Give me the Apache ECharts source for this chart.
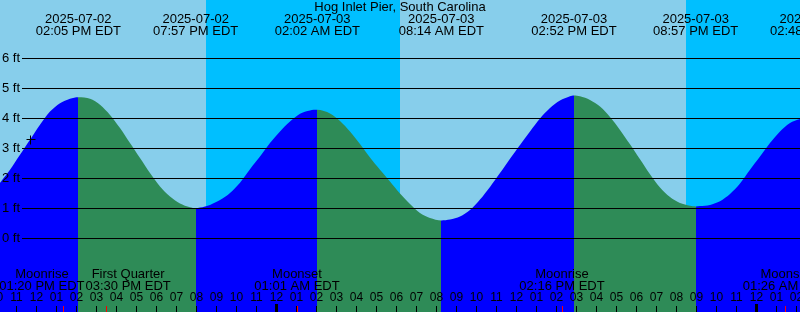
<!DOCTYPE html>
<html><head><meta charset="utf-8">
<style>html,body{margin:0;padding:0;background:#87CEEB}#c{width:800px;height:312px}</style>
<script src="https://cdn.jsdelivr.net/npm/echarts@6/dist/echarts.min.js"></script>
</head><body><div id="c"></div>
<script>
// ---------- data ----------
const chartTitle = 'Hog Inlet Pier, South Carolina';
const xStart = '2025-07-02 10:10';
const xEnd = '2025-07-04 02:10';
const yMin = -2.45, yMax = 7.95;
const levelTicks = [0, 1, 2, 3, 4, 5, 6];
const levelUnit = 'ft';
const tzName = 'EDT';

const extremeTimes = ['2025-07-02 14:05', '2025-07-02 19:57', '2025-07-03 02:02', '2025-07-03 08:14',
  '2025-07-03 14:52', '2025-07-03 20:57', '2025-07-04 02:48'];
const extremeHeights = [4.71, 1.01, 4.29, 0.60, 4.77, 1.07, 4.10];
const extremeTypes = ['H', 'L', 'H', 'L', 'H', 'L', 'H'];

// water level every half hour
const curveTimes = [
  '2025-07-02 10:10', '2025-07-02 10:40', '2025-07-02 11:10', '2025-07-02 11:40', '2025-07-02 12:10',
  '2025-07-02 12:40', '2025-07-02 13:10', '2025-07-02 13:40', '2025-07-02 14:40', '2025-07-02 15:10',
  '2025-07-02 15:40', '2025-07-02 16:10', '2025-07-02 16:40', '2025-07-02 17:10', '2025-07-02 17:40',
  '2025-07-02 18:10', '2025-07-02 18:40', '2025-07-02 19:10', '2025-07-02 19:40', '2025-07-02 20:10',
  '2025-07-02 20:40', '2025-07-02 21:10', '2025-07-02 21:40', '2025-07-02 22:10', '2025-07-02 22:40',
  '2025-07-02 23:10', '2025-07-02 23:40', '2025-07-03 00:10', '2025-07-03 00:40', '2025-07-03 01:10',
  '2025-07-03 01:40', '2025-07-03 02:40', '2025-07-03 03:10', '2025-07-03 03:40', '2025-07-03 04:10',
  '2025-07-03 04:40', '2025-07-03 05:10', '2025-07-03 05:40', '2025-07-03 06:10', '2025-07-03 06:40',
  '2025-07-03 07:10', '2025-07-03 07:40', '2025-07-03 08:40', '2025-07-03 09:10', '2025-07-03 09:40',
  '2025-07-03 10:10', '2025-07-03 10:40', '2025-07-03 11:10', '2025-07-03 11:40', '2025-07-03 12:10',
  '2025-07-03 12:40', '2025-07-03 13:10', '2025-07-03 13:40', '2025-07-03 14:10', '2025-07-03 14:40',
  '2025-07-03 15:10', '2025-07-03 15:40', '2025-07-03 16:10', '2025-07-03 16:40', '2025-07-03 17:10',
  '2025-07-03 17:40', '2025-07-03 18:10', '2025-07-03 18:40', '2025-07-03 19:10', '2025-07-03 19:40',
  '2025-07-03 20:10', '2025-07-03 20:40', '2025-07-03 21:10', '2025-07-03 21:40', '2025-07-03 22:10',
  '2025-07-03 22:40', '2025-07-03 23:10', '2025-07-03 23:40', '2025-07-04 00:10', '2025-07-04 00:40',
  '2025-07-04 01:10', '2025-07-04 01:40', '2025-07-04 02:10'];
const curveHeights = [
  1.85, 2.29, 2.79, 3.29, 3.79,
  4.23, 4.51, 4.66, 4.66, 4.46,
  4.12, 3.68, 3.18, 2.68, 2.18,
  1.73, 1.40, 1.17, 1.04, 1.03,
  1.12, 1.28, 1.52, 1.86, 2.31,
  2.73, 3.18, 3.57, 3.90, 4.16,
  4.27, 4.17, 3.92, 3.57, 3.15,
  2.70, 2.29, 1.90, 1.50, 1.15,
  0.85, 0.68, 0.63, 0.73, 0.95,
  1.30, 1.72, 2.18, 2.66, 3.12,
  3.57, 4.00, 4.35, 4.60, 4.74,
  4.74, 4.62, 4.40, 4.05, 3.62,
  3.14, 2.64, 2.14, 1.70, 1.38,
  1.18, 1.09, 1.08, 1.12, 1.24,
  1.48, 1.83, 2.29, 2.73, 3.18,
  3.57, 3.85, 3.98];

const nightStarts = ['2025-07-02 20:28', '2025-07-03 20:28'];
const nightEnds = ['2025-07-03 06:10', '2025-07-04 06:11'];

const moonTimes = ['2025-07-02 13:20', '2025-07-02 15:30', '2025-07-03 01:01', '2025-07-03 14:16', '2025-07-04 01:26'];
const moonEvents = ['Moonrise', 'First Quarter', 'Moonset', 'Moonrise', 'Moonset'];

const nowTime = '2025-07-02 11:40';
const nowHeight = 3.31;

const hourTickFirst = '2025-07-02 10:00';
const hourTickLast = '2025-07-04 02:00';

// ---------- helpers ----------
const FONT = '"Liberation Sans", Arial, sans-serif';
function toTs(s) { return new Date(s.replace(' ', 'T') + ':00').getTime(); }
function pad(n) { return String(n).padStart(2, '0'); }
function fmtTime(ts) {
  const d = new Date(ts); let h = d.getHours(); const ap = h >= 12 ? 'PM' : 'AM';
  h = h % 12 || 12; return pad(h) + ':' + pad(d.getMinutes()) + ' ' + ap + ' ' + tzName;
}
function fmtDate(ts) { const d = new Date(ts); return d.getFullYear() + '-' + pad(d.getMonth() + 1) + '-' + pad(d.getDate()); }

const xMinTs = toTs(xStart), xMaxTs = toTs(xEnd);
const extremeTs = extremeTimes.map(toTs);
const tideData = curveTimes.map((t, i) => [toTs(t), curveHeights[i]])
  .concat(extremeTs.map((t, i) => [t, extremeHeights[i]]))
  .sort((a, b) => a[0] - b[0]);

const RISE = '#0000FF', FALL = '#2E8B57';
const pieces = [];
extremeTs.forEach((t, i) => {
  const color = extremeTypes[i] === 'H' ? RISE : FALL;
  if (i === 0) pieces.push({ lt: t, color });
  else pieces.push({ gte: extremeTs[i - 1], lt: t, color });
});
pieces.push({ gte: extremeTs[extremeTs.length - 1], color: extremeTypes[extremeTs.length - 1] === 'H' ? FALL : RISE });

const hourTs = [];
for (let t = toTs(hourTickFirst); t <= toTs(hourTickLast); t += 3600000) hourTs.push(t);

const moonTs = moonTimes.map(toTs);
const measureCtx = document.createElement('canvas').getContext('2d');
measureCtx.font = '13px ' + FONT;

const chart = echarts.init(document.getElementById('c'), null, { renderer: 'canvas' });
chart.setOption({
  animation: false,
  backgroundColor: '#87CEEB',
  grid: { left: 0, right: 0, top: 0, bottom: 0 },
  xAxis: { type: 'time', min: xMinTs, max: xMaxTs, show: false },
  yAxis: { type: 'value', min: yMin, max: yMax, show: false },
  visualMap: { type: 'piecewise', show: false, dimension: 0, seriesIndex: 1, pieces },
  graphic: [{ type: 'text', x: 400, y: 7.5, z: 100,
    style: { text: chartTitle, align: 'center', verticalAlign: 'middle', font: '13px ' + FONT, fill: '#000' } }],
  series: [
    { // night bands
      type: 'custom', silent: true, clip: true, z: 0,
      data: nightStarts.map((s, i) => [toTs(s), toTs(nightEnds[i])]),
      renderItem: (params, api) => {
        const cs = params.coordSys;
        const x0 = Math.round(api.coord([api.value(0), 0])[0]);
        const x1 = Math.round(api.coord([api.value(1), 0])[0]);
        return { type: 'rect', shape: { x: x0, y: cs.y, width: x1 - x0, height: cs.height }, style: { fill: '#00BFFF' } };
      }
    },
    { // tide
      type: 'line', data: tideData, smooth: 0.3, symbol: 'none', silent: true, z: 1,
      lineStyle: { width: 0 }, areaStyle: { opacity: 1, origin: 'start' }
    },
    { // level lines
      type: 'custom', silent: true, z: 2,
      data: levelTicks.map(v => [xMinTs, v]),
      renderItem: (params, api) => {
        const cs = params.coordSys;
        const yc = api.coord([api.value(0), api.value(1)])[1];
        const y = Math.floor(yc) + 0.5;
        return { type: 'group', children: [
          { type: 'line', shape: { x1: cs.x + 22, y1: y, x2: cs.x + cs.width, y2: y }, style: { stroke: '#000', lineWidth: 1 } },
          { type: 'text', style: { text: api.value(1) + ' ' + levelUnit, x: cs.x + 2, y: y - 0.5, align: 'left', verticalAlign: 'middle', font: '13px ' + FONT, fill: '#000' } }
        ] };
      }
    },
    { // tide labels (top)
      type: 'custom', silent: true, z: 3,
      data: extremeTs.map((t, i) => [t, extremeHeights[i]]),
      renderItem: (params, api) => {
        const cs = params.coordSys;
        const ts = api.value(0);
        const x = api.coord([ts, 0])[0];
        return { type: 'group', children: [
          { type: 'text', style: { text: fmtDate(ts), x, y: cs.y + 19.5, align: 'center', verticalAlign: 'middle', font: '13px ' + FONT, fill: '#000' } },
          { type: 'text', style: { text: fmtTime(ts), x, y: cs.y + 31.5, align: 'center', verticalAlign: 'middle', font: '13px ' + FONT, fill: '#000' } }
        ] };
      }
    },
    { // hour ticks and labels
      type: 'custom', silent: true, z: 3,
      data: hourTs.map(t => [t, 0]),
      renderItem: (params, api) => {
        const cs = params.coordSys;
        const ts = api.value(0);
        const x = Math.floor(api.coord([ts, 0])[0]) + 0.5;
        const h = new Date(ts).getHours();
        const mid = h === 0;
        const bottom = cs.y + cs.height;
        return { type: 'group', children: [
          { type: 'line', shape: { x1: x, y1: bottom - (mid ? 8 : 6), x2: x, y2: bottom }, style: { stroke: '#000', lineWidth: mid ? 3 : 1 } },
          { type: 'text', style: { text: pad(h % 12 || 12), x, y: bottom - 14, align: 'center', verticalAlign: 'middle', font: '12px ' + FONT, fill: '#000' } }
        ] };
      }
    },
    { // moon events
      type: 'custom', silent: true, z: 4,
      data: moonTs.map(t => [t, 0]),
      renderItem: (params, api) => {
        const cs = params.coordSys;
        const bottom = cs.y + cs.height;
        const xs = moonTs.map(t => api.coord([t, 0])[0]);
        const ws = moonTs.map((t, i) => Math.max(measureCtx.measureText(moonEvents[i]).width, measureCtx.measureText(fmtTime(t)).width));
        const cx = xs.slice();
        for (let pass = 0; pass < 6; pass++) {
          for (let i = 1; i < cx.length; i++) {
            const ov = (cx[i - 1] + ws[i - 1] / 2 + 1) - (cx[i] - ws[i] / 2);
            if (ov > 0) { cx[i - 1] -= ov / 2; cx[i] += ov / 2; }
          }
        }
        const i = params.dataIndex;
        const tx = Math.floor(xs[i]) + 0.5;
        return { type: 'group', children: [
          { type: 'line', shape: { x1: tx, y1: bottom - 6, x2: tx, y2: bottom }, style: { stroke: '#FF0000', lineWidth: 1 } },
          { type: 'text', style: { text: moonEvents[i], x: cx[i], y: bottom - 38, align: 'center', verticalAlign: 'middle', font: '13px ' + FONT, fill: '#000' } },
          { type: 'text', style: { text: fmtTime(moonTs[i]), x: cx[i], y: bottom - 26, align: 'center', verticalAlign: 'middle', font: '13px ' + FONT, fill: '#000' } }
        ] };
      }
    },
    { // current time marker
      type: 'custom', silent: true, z: 5,
      data: [[toTs(nowTime), nowHeight]],
      renderItem: (params, api) => {
        const p = api.coord([api.value(0), api.value(1)]);
        const x = Math.floor(p[0]) + 0.5, y = Math.floor(p[1]) + 0.5;
        return { type: 'group', children: [
          { type: 'line', shape: { x1: x - 4, y1: y, x2: x + 5, y2: y }, style: { stroke: '#000', lineWidth: 1 } },
          { type: 'line', shape: { x1: x, y1: y - 4, x2: x, y2: y + 5 }, style: { stroke: '#000', lineWidth: 1 } }
        ] };
      }
    }
  ]
});
</script>
</body></html>
